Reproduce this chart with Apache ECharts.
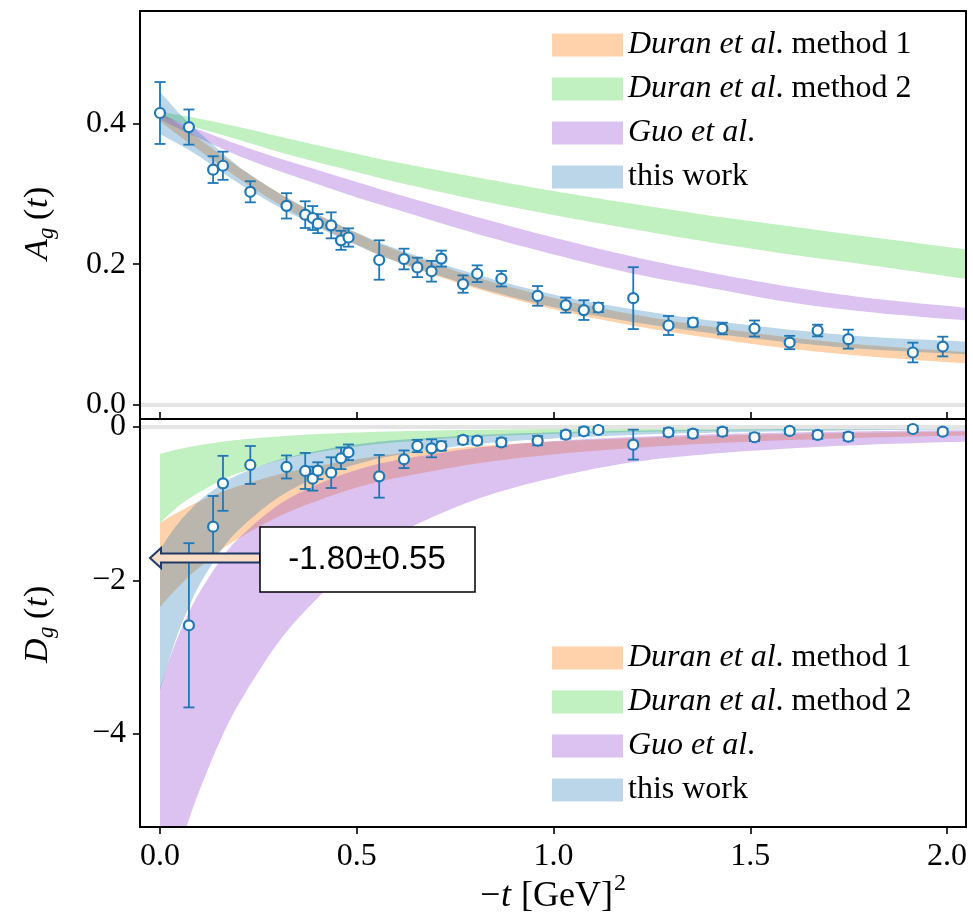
<!DOCTYPE html>
<html><head><meta charset="utf-8">
<script src="https://cdn.jsdelivr.net/npm/echarts@6/dist/echarts.min.js"></script>
<style>html,body{margin:0;padding:0;background:#fff}#c{width:973px;height:921px}</style>
</head><body><div id="c"></div>
<script>
// ---------- data ----------
const legendNames = ['Duran et al. method 1', 'Duran et al. method 2', 'Guo et al.', 'this work'];
const xTicks = [0, 0.5, 1.0, 1.5, 2.0];
const yTicksA = [0, 0.2, 0.4];
const yTicksD = [-4, -2, 0];

// A_g bands
const xBandA = [0, 0.05, 0.1, 0.2, 0.3, 0.4, 0.5, 0.6, 0.8, 1.0, 1.2, 1.4, 1.6, 1.8, 2.05];
const A_duran1_lo = [0.403,0.382,0.362,0.322,0.286,0.255,0.228,0.204,0.166,0.136,0.113,0.095,0.080,0.069,0.059];
const A_duran1_hi = [0.417,0.398,0.378,0.338,0.302,0.271,0.244,0.220,0.182,0.152,0.129,0.111,0.096,0.085,0.075];
const A_duran2_lo = [0.409,0.402,0.393,0.377,0.360,0.345,0.331,0.317,0.292,0.270,0.250,0.231,0.214,0.199,0.179];
const A_duran2_hi = [0.417,0.412,0.407,0.395,0.382,0.369,0.357,0.345,0.324,0.304,0.286,0.269,0.254,0.239,0.221];
const A_guo_lo    = [0.406,0.392,0.379,0.354,0.333,0.314,0.295,0.278,0.244,0.214,0.187,0.166,0.146,0.132,0.120];
const A_guo_hi    = [0.414,0.402,0.391,0.370,0.351,0.334,0.317,0.300,0.268,0.238,0.211,0.188,0.168,0.152,0.138];
const A_this_lo   = [0.385,0.370,0.353,0.315,0.282,0.253,0.227,0.204,0.168,0.139,0.118,0.102,0.089,0.079,0.072];
const A_this_hi   = [0.445,0.414,0.387,0.339,0.302,0.271,0.245,0.222,0.186,0.157,0.136,0.120,0.107,0.097,0.090];

// D_g bands
const xBandD = [0, 0.025, 0.05, 0.075, 0.1, 0.15, 0.2, 0.3, 0.4, 0.5, 0.6, 0.8, 1.0, 1.2, 1.4, 1.6, 1.8, 2.05];
const D_duran1_hi = [-1.25,-1.17,-1.10,-1.03,-0.97,-0.86,-0.77,-0.62,-0.51,-0.42,-0.35,-0.255,-0.19,-0.146,-0.114,-0.091,-0.074,-0.058];
const D_duran1_lo = [-2.35,-2.20,-2.07,-1.94,-1.83,-1.62,-1.45,-1.17,-0.96,-0.79,-0.665,-0.48,-0.357,-0.274,-0.214,-0.171,-0.138,-0.108];
const D_duran2_hi = [-0.35,-0.316,-0.286,-0.26,-0.237,-0.198,-0.168,-0.123,-0.093,-0.072,-0.057,-0.037,-0.026,-0.018,-0.014,-0.010,-0.008,-0.006];
const D_duran2_lo = [-1.25,-1.13,-1.02,-0.93,-0.85,-0.71,-0.60,-0.44,-0.33,-0.256,-0.20,-0.13,-0.091,-0.066,-0.049,-0.037,-0.029,-0.022];
const D_guo_hi    = [-3.4,-3.01,-2.68,-2.40,-2.16,-1.76,-1.45,-1.02,-0.75,-0.56,-0.435,-0.275,-0.184,-0.13,-0.095,-0.071,-0.055,-0.041];
const D_guo_lo    = [-6.4,-5.92,-5.49,-5.09,-4.74,-4.12,-3.61,-2.81,-2.23,-1.75,-1.40,-0.95,-0.66,-0.46,-0.35,-0.28,-0.23,-0.19];
const D_this_hi   = [-1.6,-1.40,-1.23,-1.09,-0.96,-0.77,-0.62,-0.43,-0.31,-0.226,-0.171,-0.106,-0.07,-0.048,-0.035,-0.026,-0.02,-0.015];
const D_this_lo   = [-3.43,-3.0,-2.63,-2.33,-2.06,-1.65,-1.34,-0.92,-0.655,-0.484,-0.367,-0.226,-0.15,-0.104,-0.075,-0.056,-0.043,-0.032];

// lattice points
const xA_pts = [0, 0.0735, 0.135, 0.160, 0.2295, 0.3215, 0.369, 0.388, 0.401, 0.435, 0.460, 0.479, 0.557, 0.620, 0.654, 0.690, 0.715, 0.770, 0.806, 0.8675, 0.9595, 1.031, 1.077, 1.114, 1.2025, 1.292, 1.354, 1.429, 1.5105, 1.600, 1.671, 1.749, 1.913, 1.989];
const A_vals = [0.415, 0.395, 0.3345, 0.340, 0.303, 0.283, 0.2705, 0.2657, 0.2577, 0.2553, 0.234, 0.238, 0.206, 0.2074, 0.1955, 0.190, 0.208, 0.1718, 0.1865, 0.1794, 0.155, 0.1419, 0.1348, 0.1385, 0.1518, 0.1129, 0.1172, 0.1086, 0.1086, 0.0887, 0.1058, 0.0935, 0.0745, 0.083];
const A_errs = [0.044, 0.025, 0.019, 0.020, 0.015, 0.018, 0.019, 0.017, 0.0135, 0.0185, 0.0135, 0.013, 0.028, 0.0147, 0.0138, 0.0147, 0.0114, 0.0123, 0.0119, 0.011, 0.014, 0.0107, 0.014, 0.0066, 0.044, 0.0135, 0.006, 0.0083, 0.0114, 0.0095, 0.0083, 0.0135, 0.014, 0.014];

const xD_pts = [0.0735, 0.135, 0.160, 0.2295, 0.3215, 0.369, 0.388, 0.401, 0.435, 0.460, 0.479, 0.557, 0.620, 0.654, 0.690, 0.715, 0.770, 0.806, 0.8675, 0.9595, 1.031, 1.077, 1.114, 1.2025, 1.292, 1.354, 1.429, 1.5105, 1.600, 1.671, 1.749, 1.913, 1.989];
const D_vals = [-2.584, -1.299, -0.734, -0.495, -0.521, -0.573, -0.673, -0.569, -0.595, -0.408, -0.330, -0.643, -0.421, -0.248, -0.278, -0.248, -0.169, -0.178, -0.20, -0.178, -0.10, -0.056, -0.039, -0.23, -0.069, -0.087, -0.061, -0.134, -0.052, -0.104, -0.126, -0.026, -0.061];
const D_errs = [1.07, 0.40, 0.358, 0.247, 0.15, 0.235, 0.156, 0.109, 0.20, 0.141, 0.102, 0.278, 0.115, 0.08, 0.117, 0.06, 0.05, 0.05, 0.05, 0.06, 0.05, 0.05, 0.04, 0.195, 0.05, 0.05, 0.05, 0.05, 0.04, 0.05, 0.05, 0.04, 0.04];

// ---------- styling ----------
const SERIF = '"Liberation Serif", "Times New Roman", serif';
const C_OR = 'rgba(255,127,14,0.35)';
const C_GR = 'rgba(50,205,50,0.30)';
const C_PU = 'rgba(150,70,210,0.33)';
const C_BL = 'rgba(31,119,180,0.30)';
const PT = '#1f77b4';

const chart = echarts.init(document.getElementById('c'));

// smooth (Catmull-Rom) pixel path through projected points
function smoothPts(p) {
  const out = [p[0]];
  for (let i = 0; i < p.length - 1; i++) {
    const P0 = p[i - 1] || p[i], P1 = p[i], P2 = p[i + 1], P3 = p[i + 2] || p[i + 1];
    const c1 = [P1[0] + (P2[0] - P0[0]) / 6, P1[1] + (P2[1] - P0[1]) / 6];
    const c2 = [P2[0] - (P3[0] - P1[0]) / 6, P2[1] - (P3[1] - P1[1]) / 6];
    for (let k = 1; k <= 12; k++) {
      const t = k / 12, u = 1 - t;
      out.push([
        u*u*u*P1[0] + 3*u*u*t*c1[0] + 3*u*t*t*c2[0] + t*t*t*P2[0],
        u*u*u*P1[1] + 3*u*u*t*c1[1] + 3*u*t*t*c2[1] + t*t*t*P2[1]
      ]);
    }
  }
  return out;
}

function band(name, xs, lo, hi, color, gi) {
  return {
    type: 'custom', name: name, xAxisIndex: gi, yAxisIndex: gi, silent: true, z: 1, clip: true, animation: false,
    itemStyle: { color: color },
    data: xs.map((x, i) => [x, lo[i], hi[i]]),
    encode: { x: 0, y: [1, 2] },
    renderItem(params, api) {
      if (params.dataIndexInside !== 0) return null;
      const up = smoothPts(xs.map((x, i) => api.coord([x, hi[i]])));
      const dn = smoothPts(xs.map((x, i) => api.coord([x, lo[i]]))).reverse();
      const cs = params.coordSys;
      return {
        type: 'polygon',
        shape: { points: up.concat(dn) },
        style: { fill: color, stroke: null },
        clipPath: { type: 'rect', shape: { x: cs.x, y: cs.y, width: cs.width, height: cs.height } }
      };
    }
  };
}

function errSeries(xs, ys, es, gi) {
  return {
    type: 'custom', xAxisIndex: gi, yAxisIndex: gi, silent: true, z: 5, animation: false,
    data: xs.map((x, i) => [x, ys[i], es[i]]),
    encode: { x: 0, y: 1 },
    renderItem(params, api) {
      const x = api.value(0), y = api.value(1), e = api.value(2);
      const p1 = api.coord([x, y + e]), p2 = api.coord([x, y - e]);
      const w = 5.5, st = { stroke: PT, lineWidth: 1.8 };
      return { type: 'group', children: [
        { type: 'line', shape: { x1: p1[0], y1: p1[1], x2: p2[0], y2: p2[1] }, style: st },
        { type: 'line', shape: { x1: p1[0] - w, y1: p1[1], x2: p1[0] + w, y2: p1[1] }, style: st },
        { type: 'line', shape: { x1: p2[0] - w, y1: p2[1], x2: p2[0] + w, y2: p2[1] }, style: st }
      ]};
    }
  };
}

function ptSeries(xs, ys, gi) {
  return {
    type: 'scatter', xAxisIndex: gi, yAxisIndex: gi, silent: true, z: 6, animation: false,
    data: xs.map((x, i) => [x, ys[i]]),
    symbol: 'circle', symbolSize: 10,
    itemStyle: { color: '#fff', borderColor: PT, borderWidth: 2.2, opacity: 1 },
    markLine: { silent: true, symbol: 'none', label: { show: false }, animation: false,
      lineStyle: { color: '#e4e4e4', width: 4, type: 'solid' }, data: [{ yAxis: 0 }] }
  };
}

const series = [
  band(legendNames[0], xBandA, A_duran1_lo, A_duran1_hi, C_OR, 0),
  band(legendNames[1], xBandA, A_duran2_lo, A_duran2_hi, C_GR, 0),
  band(legendNames[2], xBandA, A_guo_lo, A_guo_hi, C_PU, 0),
  band(legendNames[3], xBandA, A_this_lo, A_this_hi, C_BL, 0),
  band(legendNames[0], xBandD, D_duran1_lo, D_duran1_hi, C_OR, 1),
  band(legendNames[1], xBandD, D_duran2_lo, D_duran2_hi, C_GR, 1),
  band(legendNames[2], xBandD, D_guo_lo, D_guo_hi, C_PU, 1),
  band(legendNames[3], xBandD, D_this_lo, D_this_hi, C_BL, 1),
  errSeries(xA_pts, A_vals, A_errs, 0), ptSeries(xA_pts, A_vals, 0),
  errSeries(xD_pts, D_vals, D_errs, 1), ptSeries(xD_pts, D_vals, 1)
];

const XMIN = -0.0508, XMAX = 2.048;
const lineBlack = { color: '#000', width: 2 };
const tickStyle = { color: '#000', width: 1.6 };
const lblFont = { fontFamily: SERIF, fontSize: 32, color: '#000' };

function legendCfg(top) {
  return {
    orient: 'vertical', left: 552, top: top, padding: 0, z: 20,
    itemWidth: 71, itemHeight: 23, itemGap: 12, icon: 'rect', selectedMode: false,
    itemStyle: { borderWidth: 0 },
    data: legendNames,
    formatter: n => n.replace(/^(Duran et al|Guo et al)/, '{i|$1}'),
    textStyle: { fontFamily: SERIF, fontSize: 32, color: '#000',
      rich: { i: { fontFamily: SERIF, fontStyle: 'italic', fontSize: 32, color: '#000' } } }
  };
}

function titleGroup(x, y, letter, letterW) {
  const f = (s, lx, ly, size, italic) => ({ type: 'text', x: lx, y: ly,
    style: { text: s, fontFamily: SERIF, fontSize: size, fontStyle: italic ? 'italic' : 'normal',
      fill: '#000', align: 'left', verticalAlign: 'middle' } });
  const s0 = -38;
  return { type: 'group', x: x, y: y, rotation: Math.PI / 2, z: 50, children: [
    f(letter, s0, 0, 34, true),
    f('g', s0 + letterW, 9, 23, true),
    f('(', s0 + letterW + 19, 0, 34, false),
    f('t', s0 + letterW + 31, 0, 34, true),
    f(')', s0 + letterW + 41, 0, 34, false)
  ]};
}

const option = {
  animation: false,
  backgroundColor: '#fff',
  grid: [
    { left: 140, top: 11, width: 826, height: 408 },
    { left: 140, top: 419, width: 826, height: 408 }
  ],
  xAxis: [
    { type: 'value', gridIndex: 0, min: XMIN, max: XMAX, z: 10,
      axisLine: { show: true, onZero: false, lineStyle: lineBlack },
      axisTick: { show: true, inside: true, length: 7, customValues: xTicks, lineStyle: tickStyle },
      axisLabel: { show: false }, splitLine: { show: false } },
    { type: 'value', gridIndex: 1, min: XMIN, max: XMAX, z: 10,
      axisLine: { show: true, onZero: false, lineStyle: lineBlack },
      axisTick: { show: true, inside: false, length: 7, customValues: xTicks, lineStyle: tickStyle },
      axisLabel: Object.assign({ show: true, customValues: xTicks, margin: 14, formatter: v => v.toFixed(1) }, lblFont),
      splitLine: { show: false } },
    { type: 'value', gridIndex: 0, position: 'top', min: XMIN, max: XMAX, z: 10,
      axisLine: { show: true, onZero: false, lineStyle: lineBlack }, axisTick: { show: false }, axisLabel: { show: false }, splitLine: { show: false } },
    { type: 'value', gridIndex: 1, position: 'top', min: XMIN, max: XMAX, z: 10,
      axisLine: { show: true, onZero: false, lineStyle: lineBlack }, axisTick: { show: false }, axisLabel: { show: false }, splitLine: { show: false } }
  ],
  yAxis: [
    { type: 'value', gridIndex: 0, min: -0.02, max: 0.56, z: 10,
      axisLine: { show: true, onZero: false, lineStyle: lineBlack },
      axisTick: { show: true, length: 7, customValues: yTicksA, lineStyle: tickStyle },
      axisLabel: Object.assign({ show: true, customValues: yTicksA, margin: 14, formatter: v => v.toFixed(1) }, lblFont),
      splitLine: { show: false } },
    { type: 'value', gridIndex: 1, min: -5.212, max: 0.104, z: 10,
      axisLine: { show: true, onZero: false, lineStyle: lineBlack },
      axisTick: { show: true, length: 7, customValues: yTicksD, lineStyle: tickStyle },
      axisLabel: Object.assign({ show: true, customValues: yTicksD, margin: 14,
        formatter: v => (v < 0 ? '\u2212' + Math.abs(v) : '0') }, lblFont),
      splitLine: { show: false } },
    { type: 'value', gridIndex: 0, position: 'right', min: -0.02, max: 0.56, z: 10,
      axisLine: { show: true, onZero: false, lineStyle: lineBlack }, axisTick: { show: false }, axisLabel: { show: false }, splitLine: { show: false } },
    { type: 'value', gridIndex: 1, position: 'right', min: -5.212, max: 0.104, z: 10,
      axisLine: { show: true, onZero: false, lineStyle: lineBlack }, axisTick: { show: false }, axisLabel: { show: false }, splitLine: { show: false } }
  ],
  legend: [legendCfg(29), legendCfg(642)],
  series: series,
  graphic: [
    titleGroup(38, 222, 'A', 21),
    titleGroup(38, 625, 'D', 25),
    { type: 'group', z: 50, children: [
      { type: 'text', x: 480, y: 897, style: { text: '\u2212', fontFamily: SERIF, fontSize: 36, fill: '#000', verticalAlign: 'middle' } },
      { type: 'text', x: 501, y: 897, style: { text: 't', fontFamily: SERIF, fontStyle: 'italic', fontSize: 36, fill: '#000', verticalAlign: 'middle' } },
      { type: 'text', x: 521, y: 897, style: { text: '[GeV]', fontFamily: SERIF, fontSize: 36, fill: '#000', verticalAlign: 'middle' } },
      { type: 'text', x: 614, y: 884, style: { text: '2', fontFamily: SERIF, fontSize: 24, fill: '#000', verticalAlign: 'middle' } }
    ]},
    { type: 'polygon', z: 60,
      shape: { points: [[260, 553.5], [161, 553.5], [161, 548], [150, 558], [161, 568], [161, 562.5], [260, 562.5]] },
      style: { fill: '#f8dcc6', stroke: '#1f3864', lineWidth: 2 } },
    { type: 'rect', z: 60, shape: { x: 260, y: 527, width: 215, height: 65 },
      style: { fill: '#fff', stroke: '#000', lineWidth: 1.5 } },
    { type: 'text', z: 61, x: 367, y: 560,
      style: { text: '-1.80\u00b10.55', fontFamily: '"Liberation Sans", Arial, sans-serif', fontSize: 33, fill: '#000', align: 'center', verticalAlign: 'middle' } }
  ]
};
chart.setOption(option);
</script></body></html>
